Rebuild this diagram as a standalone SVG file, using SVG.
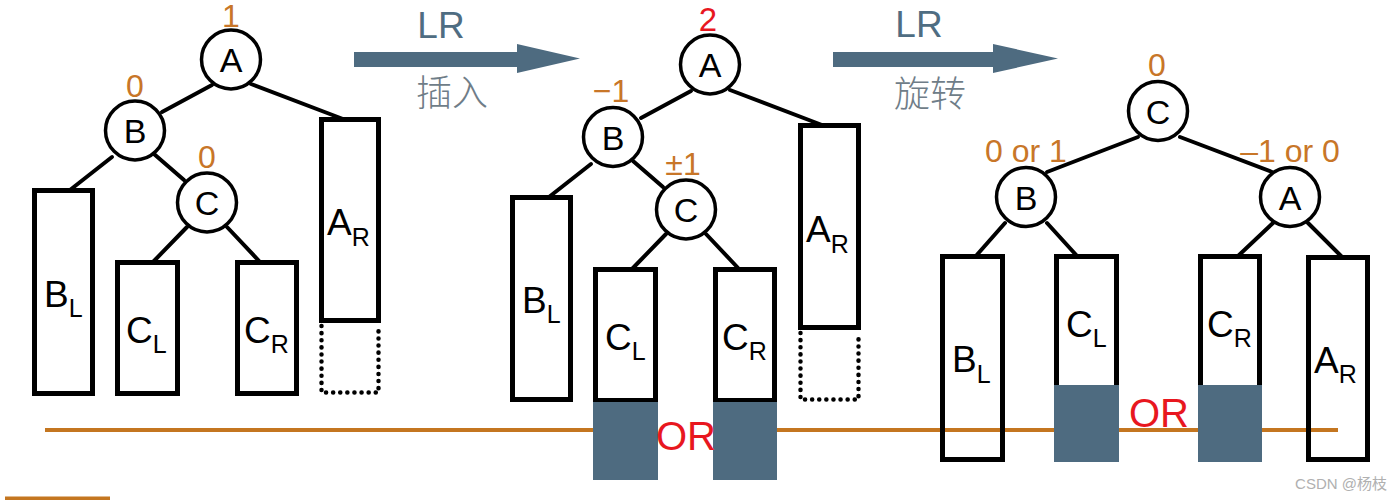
<svg xmlns="http://www.w3.org/2000/svg" width="1400" height="500" viewBox="0 0 1400 500">
<defs>
<style>
.bg{fill:#ffffff}
.edge{stroke:#000;stroke-width:4;fill:none;stroke-linecap:round}
.node{fill:#fff;stroke:#000;stroke-width:3.5}
.box{fill:none;stroke:#000;stroke-width:5}
.dots{fill:none;stroke:#000;stroke-width:4.5;stroke-dasharray:0.1 7;stroke-linecap:round;stroke-linejoin:round}
.fillbox{fill:#4e6b80}
.ground{stroke:#c47620;stroke-width:4}
.lbl{font-family:"Liberation Sans",Arial,sans-serif;font-size:34px;fill:#000;text-anchor:middle}
.sub{font-family:"Liberation Sans",Arial,sans-serif;font-size:37px;fill:#000}
.bal{font-family:"Liberation Sans",Arial,sans-serif;font-size:32px;fill:#c87628;text-anchor:middle}
.red{font-family:"Liberation Sans",Arial,sans-serif;font-size:33px;fill:#e8171f;text-anchor:middle}
.or{font-family:"Liberation Sans",Arial,sans-serif;font-size:40px;fill:#e8171f;text-anchor:middle}
.arrow{fill:#4e6b80}
.lr{font-family:"Liberation Sans",Arial,sans-serif;font-size:37px;fill:#4f6d82;text-anchor:middle}
.cn{font-family:"Noto Sans CJK SC","Noto Sans",sans-serif;font-size:36px;fill:#6f7d88;text-anchor:middle;font-weight:300}
.wm{font-family:"Liberation Sans","Noto Sans CJK SC",sans-serif;font-size:15px;fill:#b0b0b0;text-anchor:end}
</style>
</defs>
<rect class="bg" x="0" y="0" width="1400" height="500"/>

<!-- ground line -->
<g id="ground">
<line class="ground" x1="45" y1="430" x2="595" y2="430"/>
<line class="ground" x1="775" y1="430" x2="1338" y2="430"/>
<line class="ground" x1="5" y1="498.5" x2="110" y2="498.5"/>
</g>

<!-- transition arrows -->
<g id="arrow-insert">
<polygon class="arrow" points="354,52 517,52 517,44 580,58.5 517,73 517,67 354,67"/>
<text class="lr" x="441" y="38">LR</text>
<text class="cn" x="452" y="106">插入</text>
</g>
<g id="arrow-rotate">
<polygon class="arrow" points="833,52 993,52 993,44 1058,58.5 993,73 993,67 833,67"/>
<text class="lr" x="919" y="37">LR</text>
<text class="cn" x="930" y="107">旋转</text>
</g>

<!-- connectors -->
<g id="connectors">
<!-- left tree -->
<line class="edge" x1="212" y1="85" x2="162" y2="112"/>
<line class="edge" x1="251" y1="84" x2="343" y2="119"/>
<line class="edge" x1="112" y1="157" x2="70" y2="190"/>
<line class="edge" x1="154" y1="154" x2="184" y2="180"/>
<line class="edge" x1="187" y1="227" x2="153" y2="262"/>
<line class="edge" x1="227" y1="227" x2="260" y2="262"/>
<!-- middle tree -->
<line class="edge" x1="691" y1="91" x2="641" y2="118"/>
<line class="edge" x1="730" y1="90" x2="822" y2="125"/>
<line class="edge" x1="591" y1="164" x2="549" y2="197"/>
<line class="edge" x1="633" y1="161" x2="663" y2="187"/>
<line class="edge" x1="666" y1="234" x2="632" y2="269"/>
<line class="edge" x1="706" y1="234" x2="739" y2="269"/>
<!-- right tree -->
<line class="edge" x1="1138" y1="137" x2="1047" y2="172"/>
<line class="edge" x1="1180" y1="137" x2="1272" y2="172"/>
<line class="edge" x1="1005" y1="223" x2="975" y2="257"/>
<line class="edge" x1="1047" y1="223" x2="1078" y2="257"/>
<line class="edge" x1="1273" y1="223" x2="1237" y2="257"/>
<line class="edge" x1="1308" y1="223" x2="1342" y2="257"/>
</g>

<!-- LEFT TREE -->
<g id="L-A"><circle class="node" cx="231" cy="59.5" r="29.5"/><text class="lbl" x="231" y="72">A</text><text class="bal" x="231" y="27" font-size="26">1</text></g>
<g id="L-B"><circle class="node" cx="135" cy="130.5" r="29.5"/><text class="lbl" x="135" y="143">B</text><text class="bal" x="135" y="97">0</text></g>
<g id="L-C"><circle class="node" cx="207" cy="202.5" r="29.5"/><text class="lbl" x="207" y="215">C</text><text class="bal" x="207" y="168">0</text></g>
<g id="L-BL"><rect class="box" x="34.5" y="190.5" width="58" height="203"/><text class="sub" x="44" y="307">B<tspan font-size="25" dy="10">L</tspan></text></g>
<g id="L-CL"><rect class="box" x="117.5" y="262.5" width="60" height="131"/><text class="sub" x="126" y="343">C<tspan font-size="25" dy="10">L</tspan></text></g>
<g id="L-CR"><rect class="box" x="237.5" y="262.5" width="59" height="131"/><text class="sub" x="244" y="343">C<tspan font-size="25" dy="10">R</tspan></text></g>
<g id="L-AR"><rect class="box" x="321.5" y="119.5" width="57" height="201"/><text class="sub" x="327" y="235">A<tspan font-size="25" dy="11">R</tspan></text>
<path class="dots" d="M321.5,326 V392.5 H378.5 V326"/></g>

<!-- MIDDLE TREE -->
<g id="M-A"><circle class="node" cx="710" cy="64.5" r="29.5"/><text class="lbl" x="710" y="77">A</text><text class="red" x="708" y="31">2</text></g>
<g id="M-B"><circle class="node" cx="613" cy="137" r="29.5"/><text class="lbl" x="613" y="149.5">B</text><text class="bal" x="611" y="102">−1</text></g>
<g id="M-C"><circle class="node" cx="686" cy="209.5" r="29.5"/><text class="lbl" x="686" y="222">C</text><text class="bal" x="683" y="175">±1</text></g>
<g id="M-BL"><rect class="box" x="512.5" y="197.5" width="58" height="202"/><text class="sub" x="522" y="313">B<tspan font-size="25" dy="10">L</tspan></text></g>
<g id="M-CL"><rect class="box" x="595.5" y="269.5" width="60" height="131"/><rect class="fillbox" x="593" y="402" width="65" height="78"/><text class="sub" x="605" y="350">C<tspan font-size="25" dy="10">L</tspan></text></g>
<g id="M-CR"><rect class="box" x="715.5" y="269.5" width="59" height="131"/><rect class="fillbox" x="713" y="402" width="64" height="78"/><text class="sub" x="722" y="350">C<tspan font-size="25" dy="10">R</tspan></text></g>
<g id="M-AR"><rect class="box" x="800.5" y="125.5" width="58" height="202"/><text class="sub" x="806" y="242">A<tspan font-size="25" dy="11">R</tspan></text>
<path class="dots" d="M800.5,333 V399.5 H858.5 V333"/></g>
<text class="or" x="686" y="450">OR</text>

<!-- RIGHT TREE -->
<g id="R-C"><circle class="node" cx="1158" cy="111" r="29.5"/><text class="lbl" x="1158" y="123.5">C</text><text class="bal" x="1157" y="76">0</text></g>
<g id="R-B"><circle class="node" cx="1026" cy="197" r="29.5"/><text class="lbl" x="1026" y="209.5">B</text><text class="bal" x="1026" y="162">0 or 1</text></g>
<g id="R-A"><circle class="node" cx="1290" cy="197" r="29.5"/><text class="lbl" x="1290" y="209.5">A</text><text class="bal" x="1290" y="162">–1 or 0</text></g>
<g id="R-BL"><rect class="box" x="942.5" y="256.5" width="60" height="203"/><text class="sub" x="952" y="372">B<tspan font-size="25" dy="11">L</tspan></text></g>
<g id="R-CL"><rect class="box" x="1056.5" y="256.5" width="60" height="203"/><rect class="fillbox" x="1054" y="385" width="65" height="77"/><text class="sub" x="1066" y="337">C<tspan font-size="25" dy="10">L</tspan></text></g>
<g id="R-CR"><rect class="box" x="1200.5" y="256.5" width="59" height="203"/><rect class="fillbox" x="1198" y="385" width="64" height="77"/><text class="sub" x="1207" y="337">C<tspan font-size="25" dy="10">R</tspan></text></g>
<g id="R-AR"><rect class="box" x="1308.5" y="257.5" width="59" height="202"/><text class="sub" x="1314" y="373">A<tspan font-size="25" dy="10">R</tspan></text></g>
<text class="or" x="1159" y="427">OR</text>

<text class="wm" x="1387" y="489">CSDN @杨枝</text>
</svg>
